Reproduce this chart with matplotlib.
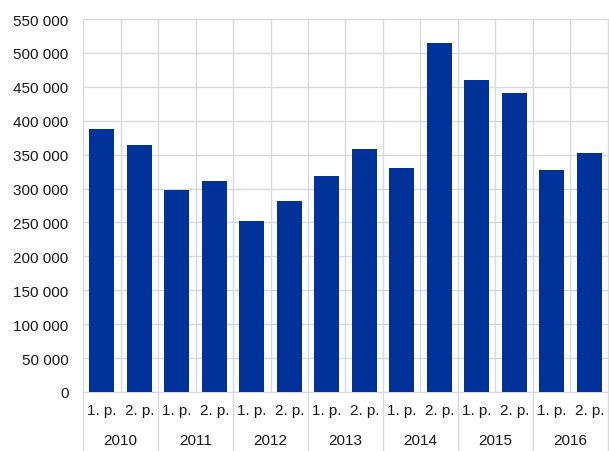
import matplotlib
matplotlib.use('Agg')
from matplotlib import pyplot as plt
from matplotlib import transforms
from matplotlib.ticker import FuncFormatter, MultipleLocator

years = ['2010', '2011', '2012', '2013', '2014', '2015', '2016']
halves = ['1. p.', '2. p.']
values = [387500, 364750, 297500, 311650, 251750, 281250, 318100,
          357950, 329900, 514300, 459700, 441450, 327900, 352500]

plt.rcParams['font.family'] = ['Liberation Sans', 'DejaVu Sans']
plt.rcParams['font.size'] = 11

fig = plt.figure(figsize=(6.09, 4.52), dpi=100)
W, H = 609, 452
ax = fig.add_axes([83 / W, (H - 393) / H, (608 - 83) / W, (393 - 20) / H])

x = list(range(len(values)))
ax.bar(x, values, width=0.66, color='#003299', zorder=3)

ax.set_xlim(-0.5, len(values) - 0.5)
ax.set_ylim(0, 550000)
ax.yaxis.set_major_locator(MultipleLocator(50000))
ax.yaxis.set_major_formatter(FuncFormatter(lambda v, p: f'{int(v):,}'.replace(',', ' ')))
ax.set_xticks([i - 0.5 for i in range(len(values) + 1)])
ax.set_xticklabels([])
ax.tick_params(axis='both', length=0, colors='#1a1a1a')
ax.tick_params(axis='y', pad=10.5, labelsize=11)
ax.grid(True, color='#d9d9d9', linewidth=1, zorder=0)
for s in ax.spines.values():
    s.set_color('#d9d9d9')
ax.spines['top'].set_visible(False)

trans = transforms.blended_transform_factory(ax.transData, ax.transAxes)
depth = (452 - 393) / (393 - 20)
for i, v in enumerate(values):
    ax.text(i, -(411 - 393) / (393 - 20), halves[i % 2], transform=trans,
            ha='center', va='center', color='#1a1a1a')
for j, y in enumerate(years):
    ax.text(2 * j + 0.5, -(441 - 393) / (393 - 20), y, transform=trans,
            ha='center', va='center', color='#1a1a1a')
for j in range(len(years) + 1):
    ax.plot([2 * j - 0.5, 2 * j - 0.5], [0, -depth], transform=trans,
            color='#d9d9d9', linewidth=1, clip_on=False)

fig.savefig('out.png', dpi=100)
